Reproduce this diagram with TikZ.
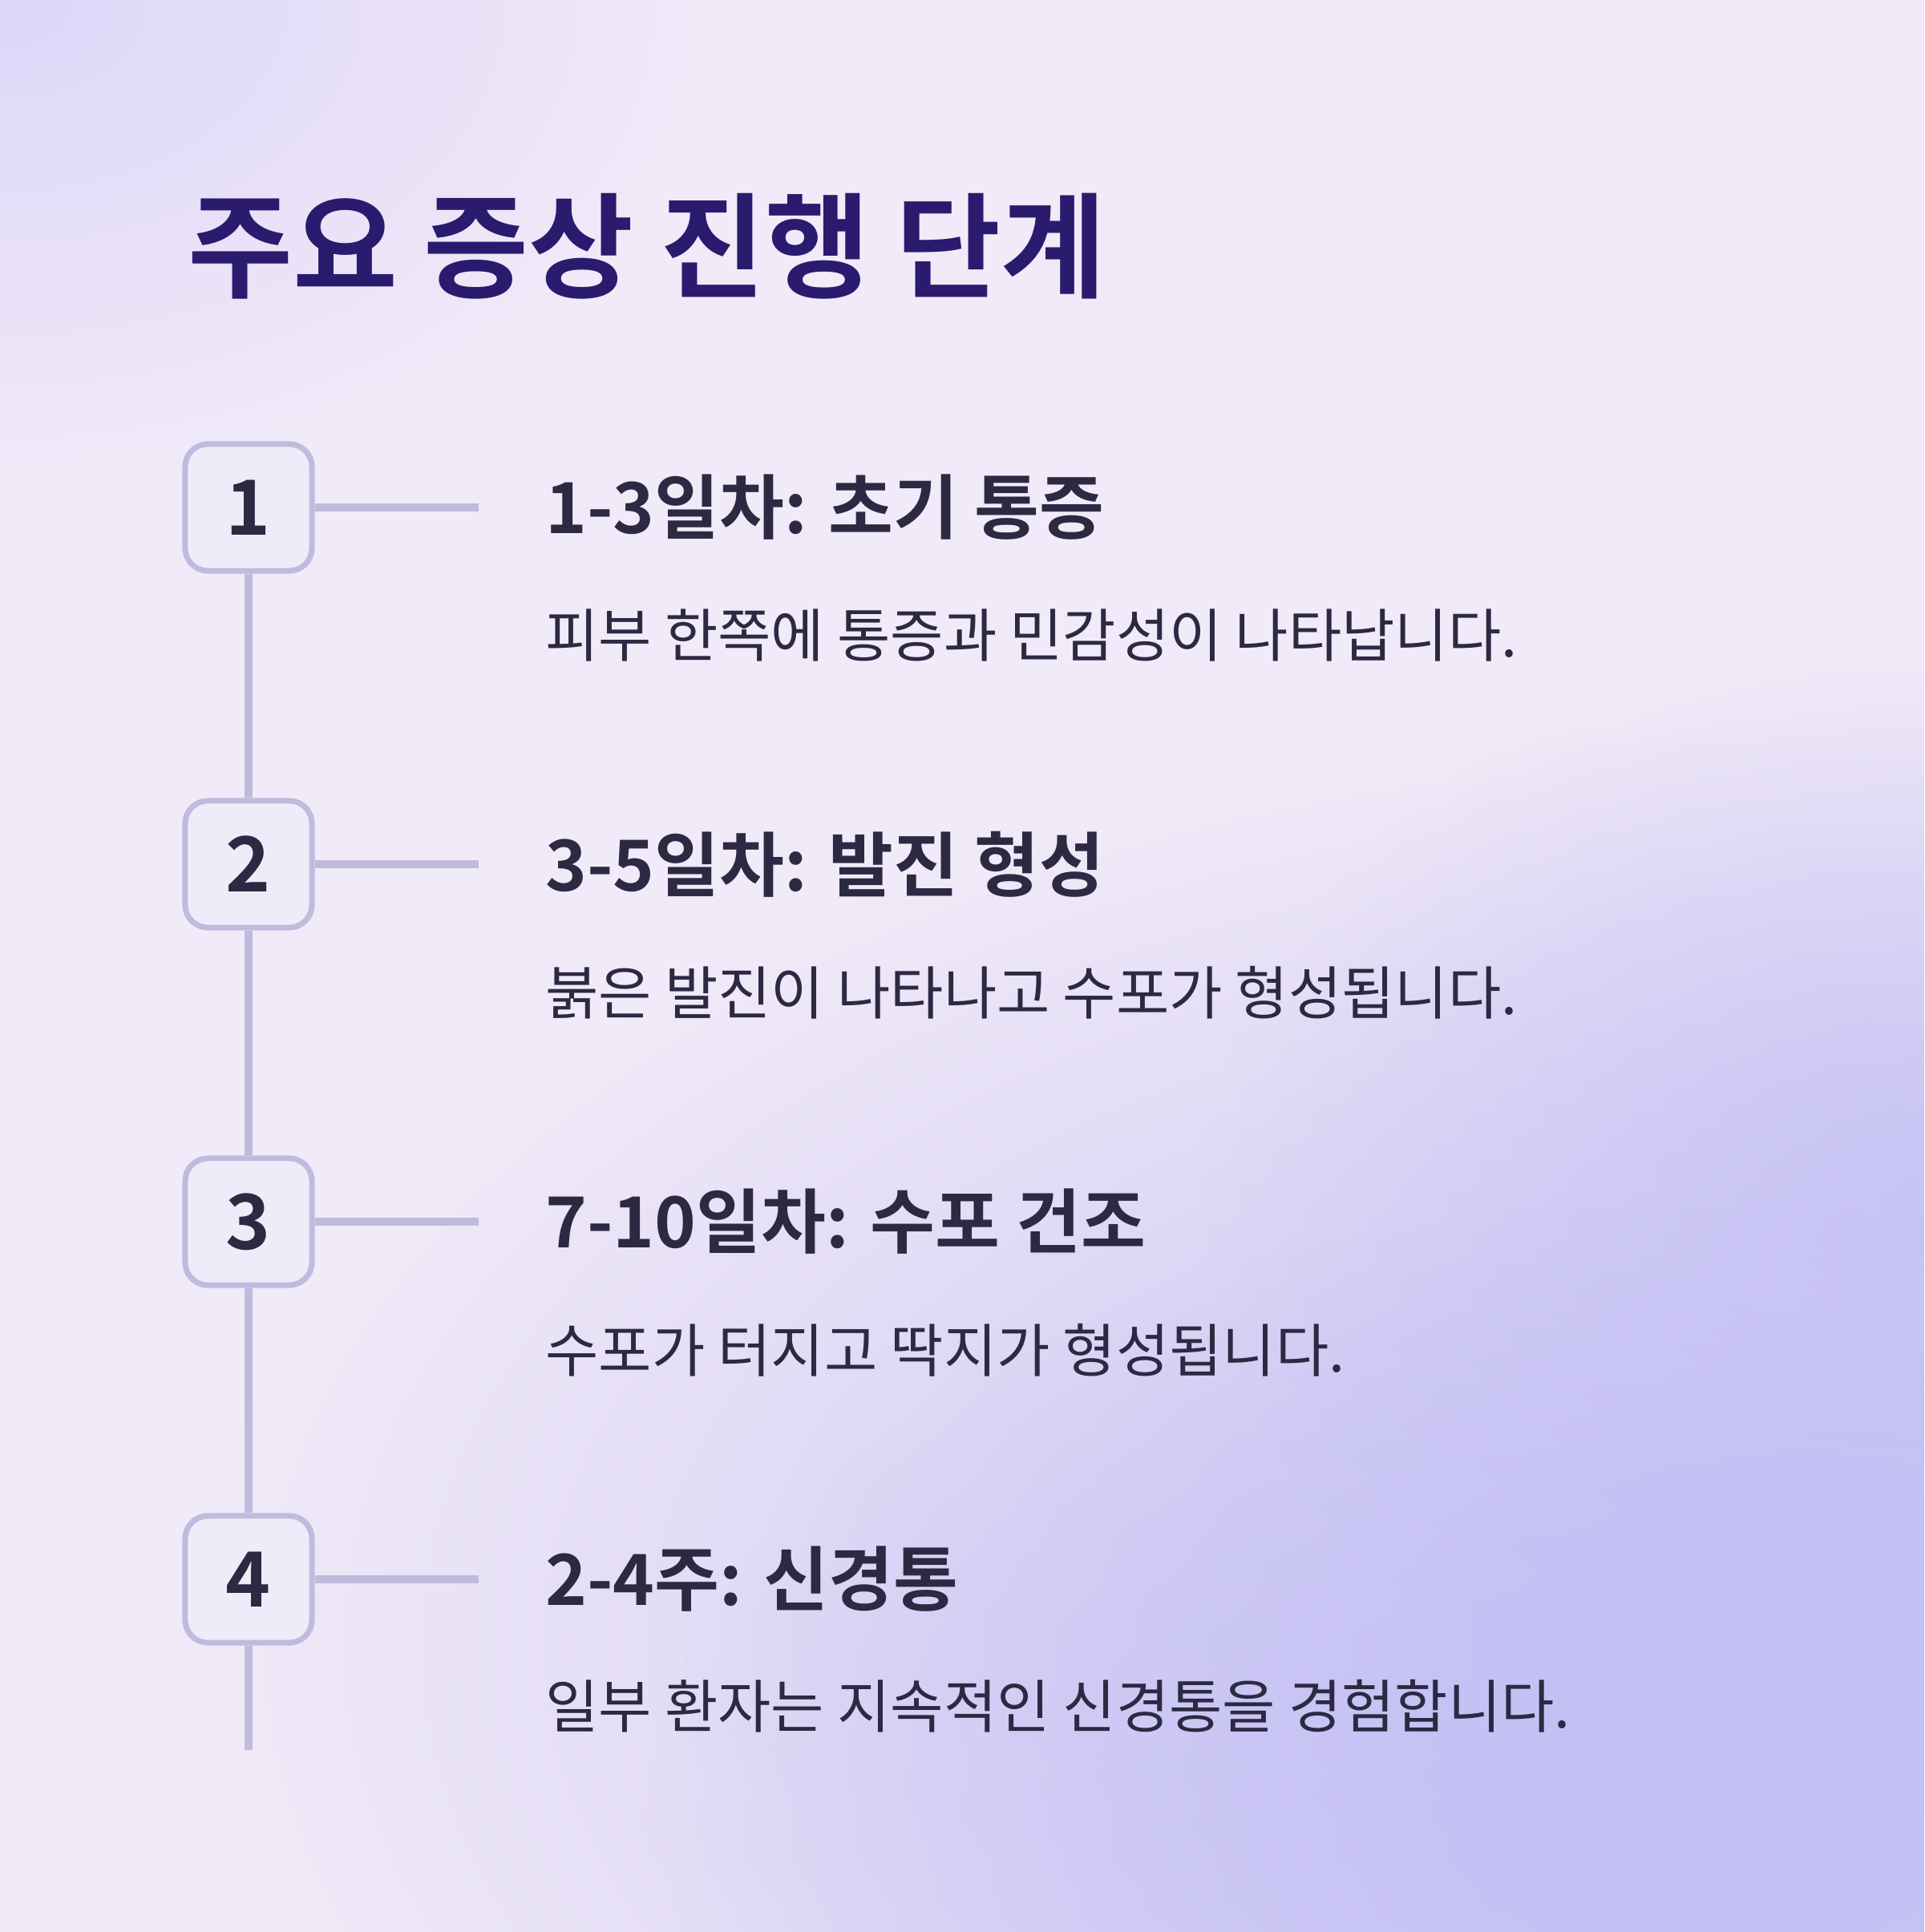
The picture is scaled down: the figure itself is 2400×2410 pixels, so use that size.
\documentclass[tikz,border=0pt]{standalone}
\usepackage{fontspec}
\setmainfont{Noto Sans CJK KR}
\newfontfamily\krbold{Noto Sans CJK KR Bold}
\usetikzlibrary{shadings,fadings}
\definecolor{bgA}{HTML}{F1EAF8}
\definecolor{bgB}{HTML}{C3BFF4}
\definecolor{bgC}{HTML}{DDD6F8}
\definecolor{titlec}{HTML}{2A1B6E}
\definecolor{textc}{HTML}{2C2942}
\definecolor{linec}{HTML}{BFBBDD}
\definecolor{boxfill}{HTML}{EFEBF8}
\tikzfading[name=softedge, inner color=transparent!0, outer color=transparent!100]
\begin{document}
\begin{tikzpicture}[x=0.01cm,y=-0.01cm,
  stepbox/.style={draw=linec,line width=2pt,fill=boxfill,rounded corners=8pt,minimum width=1.58cm,minimum height=1.58cm,font=\krbold\fontsize{27}{30}\selectfont,text=textc},
  conn/.style={draw=linec,line width=3pt},
  head/.style={anchor=west,font=\krbold\fontsize{25}{30}\selectfont,text=textc},
  desc/.style={anchor=west,font=\fontsize{20.5}{26}\selectfont,text=textc}]
\useasboundingbox (0,0) rectangle (2400,2410);
\fill[bgA] (0,0) rectangle (2400,2410);
\begin{scope}
\clip (0,0) rectangle (2400,2410);
\fill[bgB,path fading=softedge] (2250,2050) ellipse (2000 and 1150);
\fill[bgB,path fading=softedge,opacity=0.8] (2400,1500) ellipse (900 and 700);
\fill[bgB,path fading=softedge] (2100,2300) ellipse (1300 and 800);
\fill[bgC,path fading=softedge] (0,0) ellipse (900 and 600);
\end{scope}
\node[anchor=west,font=\krbold\fontsize{40.5}{46}\selectfont,text=titlec] (title) at (222,307) {주요 증상 진행 단계};
\coordinate (lineend) at (314,2183);
\node[stepbox] (b1) at (310,633) {1};
\node[stepbox] (b2) at (310,1078) {2};
\node[stepbox] (b3) at (310,1524) {3};
\node[stepbox] (b4) at (310,1970) {4};
\draw[conn] (b1.south) -- (b2.north);
\draw[conn] (b2.south) -- (b3.north);
\draw[conn] (b3.south) -- (b4.north);
\draw[conn] (b4.south) -- (b4.south |- lineend);
\foreach \i/\y in {1/633,2/1078,3/1524,4/1970}{
  \coordinate (c\i) at (597,\y);
  \draw[conn] (b\i.east) -- (c\i);
}
\node[head] (h1) at (668,633) {1-3일차: 초기 통증};
\node[desc] (d1) at (668,793) {피부 한쪽에 통증과 민감성이 나타납니다.};
\node[head] (h2) at (668,1078) {3-5일차: 발진 형성};
\node[desc] (d2) at (668,1238) {붉은 발진이 나타나고 수포가 형성됩니다.};
\node[head] (h3) at (668,1524) {7-10일차: 수포 건조};
\node[desc] (d3) at (668,1684) {수포가 터지고 딱지가 형성됩니다.};
\node[head] (h4) at (668,1970) {2-4주: 신경통};
\node[desc] (d4) at (668,2128) {일부 환자는 지속적인 신경통을 경험합니다.};
\end{tikzpicture}
\end{document}
